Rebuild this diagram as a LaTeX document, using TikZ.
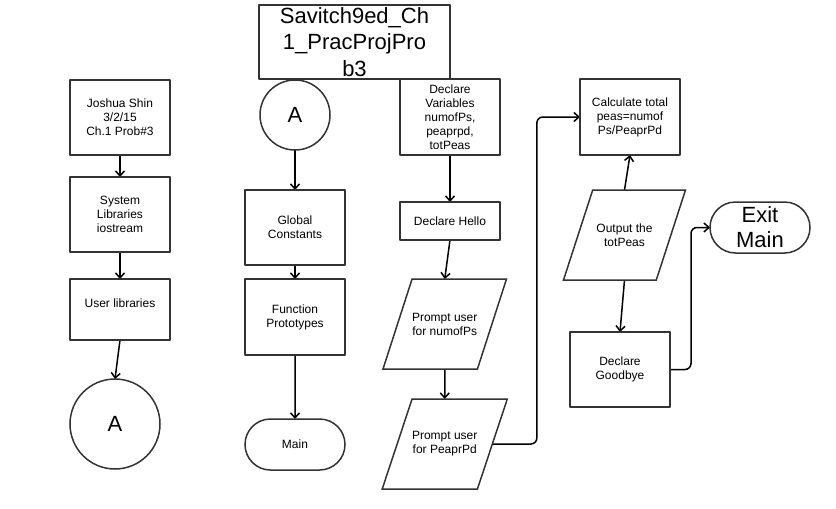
\documentclass[tikz,border=0pt]{standalone}
\usepackage{fontspec}
\setmainfont{Liberation Sans}
\usepackage{tikz}
\usetikzlibrary{
	arrows.meta,
	positioning,
	backgrounds,
	shapes.geometric,
	shapes.misc,
	}

\begin{document}
\begin{tikzpicture}[x=1pt,y=-1pt,
	process/.style={draw=black!80,line width=1.5pt,shape=rectangle,line join=round,minimum width=100pt,minimum height=75pt,inner sep=0pt,outer sep=0pt,align=center,font=\fontsize{12}{14}\selectfont},
	inout/.style={draw=black!80,line width=1.5pt,shape=trapezium,trapezium left angle=71.6,trapezium right angle=108.4,trapezium stretches body=true,minimum width=122pt,minimum height=90pt,inner xsep=0pt,inner ysep=32.5pt,outer sep=0pt,align=center,font=\fontsize{12}{14}\selectfont},
	terminal/.style={draw=black!80,line width=1.5pt,shape=rounded rectangle,minimum width=100pt,minimum height=51pt,inner sep=0pt,outer sep=0pt,align=center},
	connector/.style={draw=black!80,line width=1.5pt,shape=circle,inner sep=0pt,outer sep=0pt,font=\fontsize{22}{26}\selectfont},
	flowline/.style={line width=1.5pt,-{Straight Barb[length=5pt,width=9pt,line width=1.5pt]},rounded corners=6pt}]
\useasboundingbox (0,0) rectangle (836,509);
\node[process,minimum width=191pt,minimum height=74pt,font=\fontsize{22}{26.5}\selectfont] (title) at (354.5,42) {Savitch9ed\_Ch\\1\_PracProjPro\\b3};
\node[process] (header) at (120,117.5) {Joshua Shin\\3/2/15\\Ch.1 Prob\#3};
\node[process] (syslib) at (120,214.5) {System\\Libraries\\iostream};
\node[process,minimum height=61pt,text depth=13pt] (userlib) at (120,309.5) {User libraries};
\node[connector,minimum size=90pt] (aout) at (115,424) {A};
\node[connector,minimum size=70pt] (ain) at (295,115) {A};
\node[process] (globals) at (295,227.5) {Global\\Constants};
\node[process,minimum height=76pt] (protos) at (295,317) {Function\\Prototypes};
\node[terminal,font=\fontsize{12}{14}\selectfont] (main) at (295,444.5) {Main};
\node[process,minimum height=76pt] (vars) at (450,117) {Declare\\Variables\\numofPs,\\peaprpd,\\totPeas};
\node[process,minimum height=38pt] (hello) at (450,221) {Declare Hello};
\node[inout] (askpods) at (444.75,324) {Prompt user\\for numofPs};
\node[inout] (askpeas) at (444.75,444) {Prompt user\\for PeaprPd};
\node[process,minimum height=76pt] (calc) at (630,117) {Calculate total\\peas=numof\\Ps/PeaprPd};
\node[inout] (output) at (624.5,235) {Output the\\totPeas};
\node[process] (goodbye) at (620,369.5) {Declare\\Goodbye};
\node[terminal,font=\fontsize{22}{25}\selectfont] (exit) at (760,227.5) {Exit\\Main};
\begin{scope}[on background layer]
\draw[flowline] (header) -- (syslib);
\draw[flowline] (syslib) -- (userlib);
\draw[flowline] (userlib.south) -- (aout.north);
\draw[flowline] (ain) -- (globals);
\draw[flowline] (globals) -- (protos);
\draw[flowline] (protos) -- (main);
\draw[flowline] (vars) -- (hello);
\draw[flowline] (hello.south) -- (askpods.north);
\draw[flowline] (askpods) -- (askpeas);
\draw[flowline] (askpeas.east) -- ++(44.5,0) |- (calc.west);
\draw[flowline] (output.north) -- (calc.south);
\draw[flowline] (output.south) -- (goodbye.north);
\draw[flowline] (goodbye.east) -- ++(21,0) |- (exit.west);
\end{scope}
\end{tikzpicture}
\end{document}
